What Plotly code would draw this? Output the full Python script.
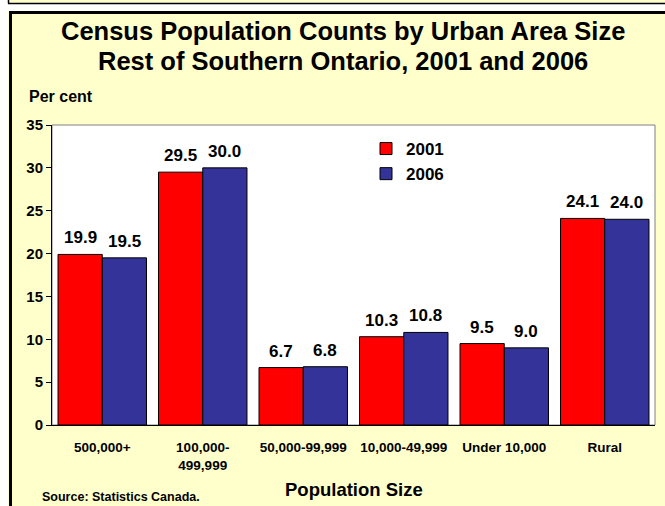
import plotly.graph_objects as go

categories = ["500,000+", "100,000-<br>499,999", "50,000-99,999", "10,000-49,999", "Under 10,000", "Rural"]
values_2001 = [19.9, 29.5, 6.7, 10.3, 9.5, 24.1]
values_2006 = [19.5, 30.0, 6.8, 10.8, 9.0, 24.0]
series_names = ["2001", "2006"]
y_ticks = [0, 5, 10, 15, 20, 25, 30, 35]

FONT = "Liberation Sans, Arial, sans-serif"
RED = "#FF0000"
BLUE = "#333399"
BG = "#FFFFCC"

W, H = 665, 506
L, R, T, B = 52, 10, 125, 81
PW = W - L - R
PH = H - T - B


def xp(px):
    return (px - L) / PW


def yp(py):
    return (H - B - py) / PH


fig = go.Figure()
for name, vals, col in [(series_names[0], values_2001, RED), (series_names[1], values_2006, BLUE)]:
    fig.add_trace(go.Bar(
        x=categories, y=vals, name=name,
        marker=dict(color=col, line=dict(color="black", width=1)),
    ))

# value labels above bars
bar_w = PW / len(categories) * (1 - 0.12) / 2
annotations = []
for vals, shift in [(values_2001, -bar_w / 2), (values_2006, bar_w / 2)]:
    for c, v in zip(categories, vals):
        annotations.append(dict(
            x=c, y=v, xref="x", yref="y", text=f"{v:.1f}", showarrow=False,
            xshift=shift, yshift=5, yanchor="bottom", xanchor="center",
            font=dict(family=FONT, size=17, color="black", weight="bold"),
        ))

annotations += [
    dict(x=xp(343), y=yp(31), xref="paper", yref="paper", showarrow=False,
         text="Census Population Counts by Urban Area Size", xanchor="center", yanchor="middle",
         font=dict(family=FONT, size=25.5, color="black", weight="bold")),
    dict(x=xp(343), y=yp(61), xref="paper", yref="paper", showarrow=False,
         text="Rest of Southern Ontario, 2001 and 2006", xanchor="center", yanchor="middle",
         font=dict(family=FONT, size=25.5, color="black", weight="bold")),
    dict(x=xp(27), y=yp(96), xref="paper", yref="paper", showarrow=False,
         text="Per cent", xanchor="left", yanchor="middle",
         font=dict(family=FONT, size=16, color="black", weight="bold")),
    dict(x=0.5, y=yp(489), xref="paper", yref="paper", showarrow=False,
         text="Population Size", xanchor="center", yanchor="middle",
         font=dict(family=FONT, size=18.5, color="black", weight="bold")),
    dict(x=xp(40), y=yp(497), xref="paper", yref="paper", showarrow=False,
         text="Source: Statistics Canada.", xanchor="left", yanchor="middle",
         font=dict(family=FONT, size=12.5, color="black", weight="bold")),
]

shapes = [
    # white margin strips around the yellow frame
    dict(type="rect", xref="paper", yref="paper", x0=xp(-10), x1=xp(8), y0=yp(530), y1=yp(-10),
         fillcolor="white", line=dict(width=0), layer="below"),
    dict(type="rect", xref="paper", yref="paper", x0=xp(8), x1=xp(680), y0=yp(11), y1=yp(4),
         fillcolor="white", line=dict(width=0), layer="below"),
    # top stripe borders
    dict(type="line", xref="paper", yref="paper", x0=xp(8), x1=xp(680), y0=yp(3.5), y1=yp(3.5),
         line=dict(color="black", width=1.5)),
    dict(type="line", xref="paper", yref="paper", x0=xp(8.5), x1=xp(8.5), y0=yp(3.5), y1=yp(-10),
         line=dict(color="black", width=1.5)),
    # main frame borders
    dict(type="line", xref="paper", yref="paper", x0=xp(9), x1=xp(680), y0=yp(12.5), y1=yp(12.5),
         line=dict(color="black", width=3)),
    dict(type="line", xref="paper", yref="paper", x0=xp(10.5), x1=xp(10.5), y0=yp(11), y1=yp(530),
         line=dict(color="black", width=3)),
    # plot area border (gray)
    dict(type="rect", xref="paper", yref="paper", x0=0, x1=1, y0=0, y1=1,
         line=dict(color="#808080", width=1), layer="below"),
]

fig.update_layout(
    width=W, height=H,
    margin=dict(l=L, r=R, t=T, b=B, pad=0),
    paper_bgcolor=BG, plot_bgcolor="white",
    barmode="group", bargap=0.12, bargroupgap=0,
    font=dict(family=FONT, color="black"),
    showlegend=True,
    legend=dict(x=xp(366), y=yp(131), xanchor="left", yanchor="top",
                bgcolor="rgba(0,0,0,0)", borderwidth=0,
                font=dict(family=FONT, size=17, color="black", weight="bold"),
                itemwidth=30, tracegroupgap=0),
    annotations=annotations,
    shapes=shapes,
)
fig.update_xaxes(
    showline=True, linecolor="black", linewidth=1, showgrid=False,
    ticks="outside", ticklen=10, tickcolor="rgba(0,0,0,0)",
    tickfont=dict(family=FONT, size=13.5, color="black", weight="bold"),
    fixedrange=True,
)
fig.update_yaxes(
    range=[0, 35], tickvals=y_ticks, showline=True, linecolor="black", linewidth=1,
    showgrid=False, zeroline=False, ticks="outside", ticklen=5, tickcolor="black",
    tickfont=dict(family=FONT, size=15, color="black", weight="bold"),
    fixedrange=True,
)

fig.write_html(
    "out.html",
    config={"displayModeBar": False},
    post_script="document.body.style.margin='0';document.body.style.padding='0';",
)
